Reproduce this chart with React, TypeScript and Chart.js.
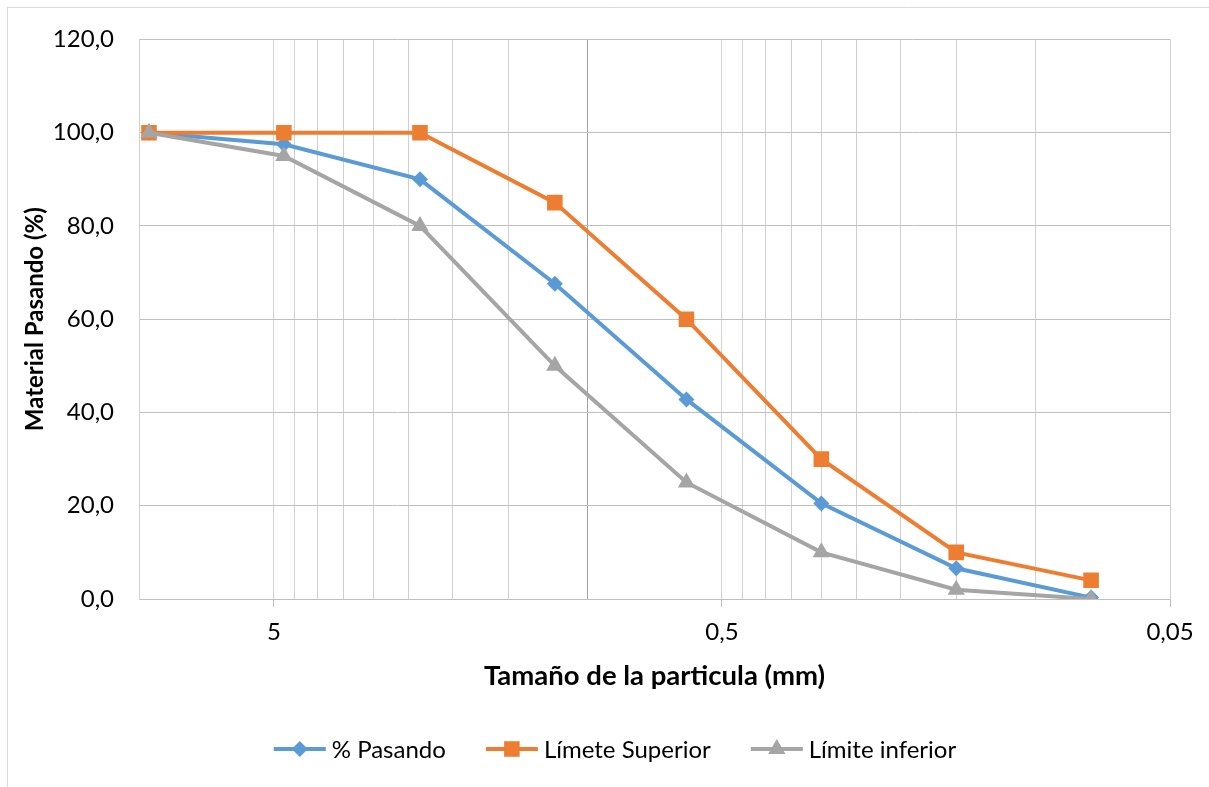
import React, { useEffect, useRef } from "react";
import { Chart, registerables } from "chart.js";

Chart.register(...registerables);

// ---- Data ----
const sieveSizes = [9.5, 4.75, 2.36, 1.18, 0.6, 0.3, 0.15, 0.075];
const pasando = [100, 97.5, 90.0, 67.6, 42.8, 20.5, 6.6, 0.3];
const limiteSuperior = [100, 100, 100, 85, 60, 30, 10, 4];
const limiteInferior = [100, 95, 80, 50, 25, 10, 2, 0];
const seriesNames = ["% Pasando", "Límete Superior", "Límite inferior"];
const xTickValues = [10, 5, 4.5, 4, 3.5, 3, 2.5, 2, 1.5, 1, 0.5, 0.45, 0.4, 0.35, 0.3, 0.25, 0.2, 0.15, 0.1, 0.05];
const xLabeledTicks = [5, 0.5, 0.05];
const xTitle = "Tamaño de la particula (mm)";
const yTitle = "Material Pasando (%)";

// ---- Styles ----
const FONT = "Lato";
const TICK_SIZE = 24;
const X_TITLE_SIZE = 27.5;
const Y_TITLE_SIZE = 24;
const seriesColors = ["#5B9BD5", "#ED7D31", "#A5A5A5"];
const markerStyles = ["rectRot", "rect", "triangle"];
const markerRadii = [8, 11, 10];
const LINE_W = 4;

const fmtX = (v: number) => String(v).replace(".", ",");
const fmtY = (v: number) => Number(v).toFixed(1).replace(".", ",");

function drawMarker(ctx: CanvasRenderingContext2D, style: string, x: number, y: number, r: number, color: string) {
  ctx.save();
  ctx.fillStyle = color;
  ctx.beginPath();
  if (style === "rectRot") {
    ctx.moveTo(x - r, y);
    ctx.lineTo(x, y - r);
    ctx.lineTo(x + r, y);
    ctx.lineTo(x, y + r);
  } else if (style === "rect") {
    const s = r * Math.SQRT1_2;
    ctx.rect(x - s, y - s, 2 * s, 2 * s);
  } else {
    ctx.moveTo(x, y - r);
    ctx.lineTo(x + r * Math.cos(Math.PI / 6), y + r / 2);
    ctx.lineTo(x - r * Math.cos(Math.PI / 6), y + r / 2);
  }
  ctx.closePath();
  ctx.fill();
  ctx.restore();
}

const backgroundPlugin = {
  id: "bgBorder",
  beforeDraw(chart: any) {
    const ctx = chart.ctx;
    ctx.save();
    ctx.fillStyle = "#ffffff";
    ctx.fillRect(0, 0, chart.width, chart.height);
    ctx.strokeStyle = "#d9d9d9";
    ctx.lineWidth = 1;
    ctx.beginPath();
    ctx.moveTo(7.5, chart.height);
    ctx.lineTo(7.5, 7.5);
    ctx.lineTo(chart.width, 7.5);
    ctx.stroke();
    ctx.restore();
  },
};

const legendPlugin = {
  id: "customLegend",
  afterDraw(chart: any) {
    const ctx = chart.ctx as CanvasRenderingContext2D;
    ctx.save();
    ctx.font = `${TICK_SIZE}px ${FONT}`;
    const lineLen = 52;
    const gapText = 6;
    const gapItem = 40;
    const widths = seriesNames.map((n) => ctx.measureText(n).width);
    const total = widths.reduce((a, w) => a + lineLen + gapText + w, 0) + gapItem * (seriesNames.length - 1);
    let x = 615 - total / 2;
    const y = 749;
    seriesNames.forEach((name, i) => {
      const color = seriesColors[i];
      ctx.strokeStyle = color;
      ctx.lineWidth = LINE_W;
      ctx.beginPath();
      ctx.moveTo(x, y);
      ctx.lineTo(x + lineLen, y);
      ctx.stroke();
      drawMarker(ctx, markerStyles[i], x + lineLen / 2, y, markerRadii[i], color);
      ctx.fillStyle = "#000000";
      ctx.textBaseline = "middle";
      ctx.textAlign = "left";
      ctx.fillText(name, x + lineLen + gapText, y + 1);
      x += lineLen + gapText + widths[i] + gapItem;
    });
    ctx.restore();
  },
};

export default function App() {
  const canvasRef = useRef<HTMLCanvasElement | null>(null);

  useEffect(() => {
    const canvas = canvasRef.current;
    if (!canvas) return;
    const allSeries = [pasando, limiteSuperior, limiteInferior];
    const chart = new Chart(canvas, {
      type: "line",
      data: {
        datasets: allSeries.map((vals, i) => ({
          label: seriesNames[i],
          data: sieveSizes.map((s, j) => ({ x: s, y: vals[j] })),
          borderColor: seriesColors[i],
          backgroundColor: seriesColors[i],
          borderWidth: LINE_W,
          pointStyle: markerStyles[i] as any,
          pointRadius: markerRadii[i],
          pointBorderWidth: 0,
          pointBackgroundColor: seriesColors[i],
          pointBorderColor: seriesColors[i],
          tension: 0,
          fill: false,
          order: 2 - i,
        })),
      },
      options: {
        animation: false,
        responsive: false,
        maintainAspectRatio: false,
        events: [],
        layout: { padding: { left: 0, top: 36, right: 39, bottom: 0 } },
        plugins: {
          legend: { display: false },
          tooltip: { enabled: false },
        },
        scales: {
          x: {
            type: "logarithmic",
            reverse: true,
            min: 0.05,
            max: 10,
            afterBuildTicks: (scale: any) => {
              scale.ticks = xTickValues.map((v) => ({ value: v }));
            },
            afterFit: (scale: any) => {
              scale.height = 188;
            },
            ticks: {
              autoSkip: false,
              maxRotation: 0,
              minRotation: 0,
              padding: 11,
              color: "#000000",
              font: { family: FONT, size: TICK_SIZE },
              callback: (v: any) => (xLabeledTicks.includes(Number(v)) ? fmtX(Number(v)) : ""),
            },
            grid: {
              color: (c: any) => (c.tick && c.tick.value === 1 ? "#a0a0a0" : "#d0d0d0"),
              tickColor: (c: any) => (c.tick && xLabeledTicks.includes(c.tick.value) ? "#bfbfbf" : "rgba(0,0,0,0)"),
              tickLength: 8,
              lineWidth: 1,
            },
            border: { color: "#bfbfbf", width: 1 },
            title: {
              display: true,
              text: xTitle,
              color: "#000000",
              font: { family: FONT, size: X_TITLE_SIZE, weight: "bold" },
              padding: { top: 0, bottom: 94 },
            },
          },
          y: {
            min: 0,
            max: 120,
            afterFit: (scale: any) => {
              scale.width = 139;
            },
            ticks: {
              stepSize: 20,
              padding: 25,
              color: "#000000",
              font: { family: FONT, size: TICK_SIZE },
              callback: (v: any) => fmtY(Number(v)),
            },
            grid: {
              color: "#bfbfbf",
              drawTicks: false,
              lineWidth: 1,
            },
            border: { color: "#d0d0d0", width: 1 },
            title: {
              display: true,
              text: yTitle,
              color: "#000000",
              font: { family: FONT, size: Y_TITLE_SIZE, weight: "bold" },
              padding: { top: 21, bottom: 0 },
            },
          },
        },
      } as any,
      plugins: [backgroundPlugin, legendPlugin],
    });
    return () => chart.destroy();
  }, []);

  return (
    <div style={{ position: "fixed", left: 0, top: 0, width: 1209, height: 787, background: "#fff" }}>
      <canvas ref={canvasRef} width={1209} height={787} style={{ width: 1209, height: 787, display: "block" }} />
    </div>
  );
}
